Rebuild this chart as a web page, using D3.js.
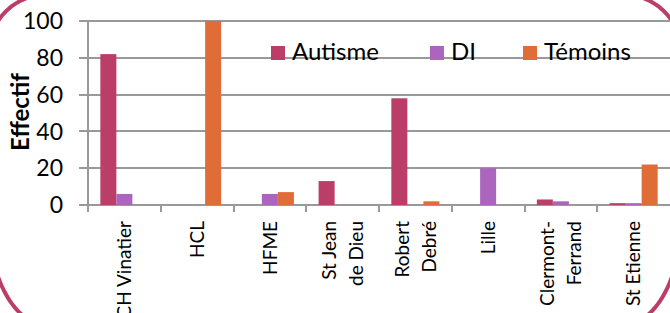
<!DOCTYPE html>
<html>
<head>
<meta charset="utf-8">
<script src="https://cdn.jsdelivr.net/npm/d3@7"></script>
<style>
  html, body { margin: 0; padding: 0; background: #fff; overflow: hidden; }
  svg { display: block; }
</style>
</head>
<body>
<div id="chart"></div>
<script>
// data
const sites = [["CH Vinatier"], ["HCL"], ["HFME"], ["St Jean", "de Dieu"], ["Robert", "Debré"], ["Lille"], ["Clermont-", "Ferrand"], ["St Etienne"]];
const series = ["Autisme", "DI", "Témoins"];
const autisme = [82, 0, 0, 13, 58, 0, 3, 1];
const di = [6, 0, 6, 0, 0, 20, 2, 1];
const temoins = [0, 100, 7, 0, 2, 0, 0, 22];
const yTicks = [0, 20, 40, 60, 80, 100];

const width = 670, height = 313;
const colors = { "Autisme": "#BB3E68", "DI": "#AC65BE", "Témoins": "#E06C37" };
const FONT = "Lato, 'Open Sans', sans-serif";

const svg = d3.select("#chart").append("svg")
    .attr("width", width)
    .attr("height", height);

// rounded frame: only its four corners fall inside the view
const rx = 57, ryTop = 60, ryBot = 109;
const corners = [
    // [center x, center y, ry, start angle, end angle]
    [45, 55, ryTop, Math.PI, 1.5 * Math.PI],
    [625, 55, ryTop, 1.5 * Math.PI, 2 * Math.PI],
    [625, 215, ryBot, 0, 0.5 * Math.PI],
    [45, 215, ryBot, 0.5 * Math.PI, Math.PI]
];
corners.forEach(([cx, cy, ry, a0, a1]) => {
    const pts = d3.range(0, 41).map(k => {
        const a = a0 + (a1 - a0) * k / 40;
        return [cx + rx * Math.cos(a), cy + ry * Math.sin(a)];
    });
    svg.append("path")
        .attr("d", d3.line()(pts))
        .attr("fill", "none")
        .attr("stroke", colors["Autisme"])
        .attr("stroke-width", 4);
});

const plot = { left: 88, right: 670, top: 21, bottom: 205 };

const x = d3.scaleBand()
    .domain(d3.range(sites.length))
    .range([plot.left, plot.right]);

const xs = d3.scaleBand()
    .domain(series)
    .range([0, x.bandwidth()])
    .paddingOuter(0.77);

const y = d3.scaleLinear().domain([0, 100]).range([plot.bottom, plot.top]);

// gridlines
svg.append("g").selectAll("line")
    .data(yTicks)
    .join("line")
    .attr("x1", plot.left - 9).attr("x2", plot.right)
    .attr("y1", d => Math.round(y(d))).attr("y2", d => Math.round(y(d)))
    .attr("stroke", "#999").attr("stroke-width", 2);

// y axis line
svg.append("line")
    .attr("x1", plot.left).attr("x2", plot.left)
    .attr("y1", plot.top).attr("y2", plot.bottom + 7)
    .attr("stroke", "#999").attr("stroke-width", 2);

// x ticks at band edges
svg.append("g").selectAll("line")
    .data(d3.range(sites.length))
    .join("line")
    .attr("x1", d => Math.round(x(d))).attr("x2", d => Math.round(x(d)))
    .attr("y1", plot.bottom).attr("y2", plot.bottom + 7)
    .attr("stroke", "#999").attr("stroke-width", 2);

// y tick labels
svg.append("g").selectAll("text")
    .data(yTicks)
    .join("text")
    .attr("x", 63)
    .attr("y", d => y(d))
    .attr("dy", "0.36em")
    .attr("text-anchor", "end")
    .attr("font-family", FONT)
    .attr("font-size", "23px")
    .attr("fill", "#000")
    .text(d => d);

// y title
svg.append("text")
    .attr("transform", "translate(29,112) rotate(-90)")
    .attr("text-anchor", "middle")
    .attr("font-family", FONT)
    .attr("font-size", "24px")
    .attr("font-weight", "bold")
    .text("Effectif");

// bars
const values = { "Autisme": autisme, "DI": di, "Témoins": temoins };
series.forEach(s => {
    svg.append("g").selectAll("rect")
        .data(values[s])
        .join("rect")
        .attr("x", (d, i) => x(i) + xs(s))
        .attr("y", d => y(d))
        .attr("width", xs.bandwidth())
        .attr("height", d => y(0) - y(d))
        .attr("fill", colors[s]);
});

// x labels (rotated, possibly two lines)
const lineGap = 27;
sites.forEach((lines, i) => {
    const cx = x(i) + x.bandwidth() / 2;
    lines.forEach((t, j) => {
        const off = (j - (lines.length - 1) / 2) * lineGap;
        svg.append("text")
            .attr("transform", `translate(${cx + off},221) rotate(-90)`)
            .attr("text-anchor", "end")
            .attr("dy", "0.35em")
            .attr("font-family", FONT)
            .attr("font-size", "19px")
            .attr("fill", "#000")
            .text(t);
    });
});

// legend
const legendX = [271, 430, 523];
const legend = svg.append("g");
series.forEach((s, i) => {
    legend.append("rect")
        .attr("x", legendX[i]).attr("y", 46)
        .attr("width", 14).attr("height", 14)
        .attr("fill", colors[s]);
    legend.append("text")
        .attr("x", legendX[i] + 21).attr("y", 60)
        .attr("font-family", FONT)
        .attr("font-size", "24px")
        .attr("fill", "#000")
        .text(s);
});
</script>
</body>
</html>
